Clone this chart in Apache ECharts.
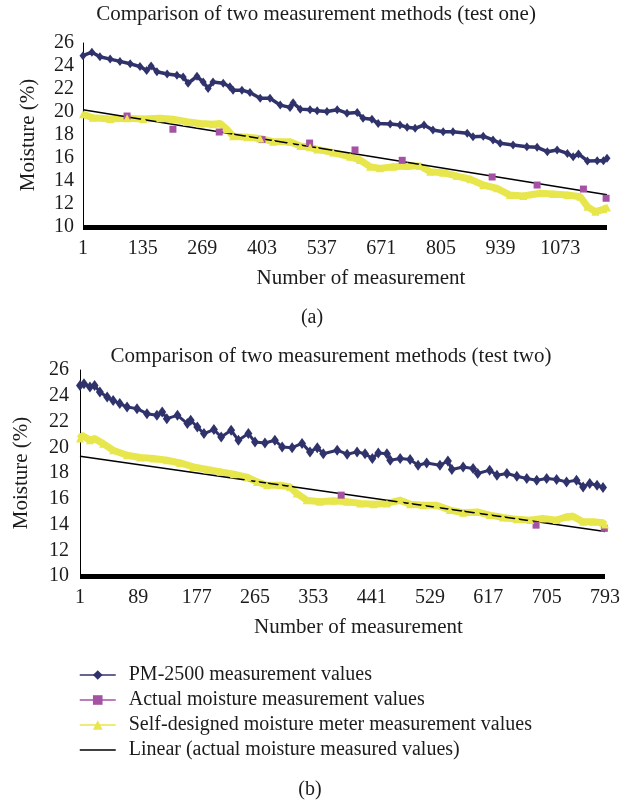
<!DOCTYPE html>
<html>
<head>
<meta charset="utf-8">
<script src="https://cdn.jsdelivr.net/npm/echarts@6/dist/echarts.min.js"></script>
<style>
  html, body { margin: 0; padding: 0; background: #fff; }
  #chart { width: 628px; height: 803px; }
</style>
</head>
<body>
<div id="chart"></div>
<script>
// test one: 1178 measurements, labels every 134
const countA = 1178
const stepA = 134
// test two: 793 measurements, labels every 88
const countB = 793
const stepB = 88

const seriesNames = [
  'PM-2500 measurement values',
  'Actual moisture measurement values',
  'Self-designed moisture meter measurement values',
  'Linear (actual moisture measured values)'
]

// [measurement number, moisture %]
const pmA = [[1,24.9],[21,25.2],[39,24.8],[62,24.6],[84,24.4],[107,24.2],[129,23.95],[144,23.6],[154,24.0],[167,23.5],[190,23.3],[212,23.2],[226,23.05],[237,22.5],[257,23.1],[271,22.6],[282,22.05],[293,22.6],[316,22.5],[331,22.2],[338,21.9],[358,21.9],[376,21.7],[399,21.2],[421,21.2],[444,20.6],[466,20.4],[473,20.8],[489,20.25],[511,20.2],[527,20.1],[549,20.05],[572,20.2],[594,19.9],[617,19.95],[630,19.45],[650,19.37],[664,19.0],[691,18.96],[713,18.87],[729,18.67],[747,18.58],[767,18.87],[787,18.43],[810,18.29],[832,18.29],[864,18.15],[877,17.85],[900,17.9],[922,17.57],[938,17.28],[967,17.13],[998,16.98],[1021,16.93],[1044,16.55],[1066,16.7],[1089,16.4],[1102,16.1],[1114,16.35],[1134,15.74],[1156,15.77],[1170,15.77],[1178,15.97]]
const actualA = [[100,19.65],[203,18.5],[307,18.26],[403,17.6],[510,17.3],[612,16.7],[718,15.8],[920,14.35],[1021,13.65],[1125,13.3],[1176,12.5]]
const selfA = [[1,19.8],[23,19.5],[62,19.4],[100,19.45],[136,19.4],[174,19.45],[203,19.37],[234,19.16],[264,19.0],[293,18.93],[309,19.0],[324,18.5],[338,17.9],[370,17.8],[399,17.7],[428,17.42],[466,17.42],[489,17.04],[511,16.93],[527,16.75],[563,16.47],[601,16.1],[623,15.83],[646,15.25],[668,15.1],[698,15.24],[729,15.3],[758,15.3],[781,14.8],[810,14.72],[841,14.43],[871,14.15],[900,13.65],[931,13.36],[960,12.78],[990,12.7],[1028,12.93],[1057,12.87],[1089,12.78],[1118,12.63],[1134,11.77],[1152,11.33],[1170,11.54],[1178,11.7]]
const trendA = [[1,20.2],[1178,12.8]]

const pmB = [[1,24.8],[7,24.94],[16,24.67],[23,24.8],[31,24.29],[42,23.9],[51,23.64],[61,23.39],[72,23.12],[87,23.0],[102,22.61],[117,22.48],[125,22.74],[132,22.22],[148,22.48],[163,21.84],[168,22.1],[178,21.57],[188,21.06],[203,21.37],[214,20.8],[229,21.32],[240,20.54],[255,21.06],[265,20.41],[280,20.33],[295,20.54],[306,20.02],[321,19.97],[336,20.3],[348,19.64],[359,19.97],[368,19.5],[389,19.77],[404,19.46],[419,19.64],[431,19.5],[442,19.12],[451,19.56],[464,19.5],[469,18.99],[484,19.12],[499,19.04],[511,18.6],[524,18.78],[544,18.6],[556,18.94],[562,18.27],[579,18.47],[594,18.35],[601,17.96],[619,18.22],[630,17.83],[645,17.96],[660,17.75],[675,17.57],[690,17.44],[705,17.57],[720,17.5],[735,17.31],[750,17.44],[760,16.92],[770,17.19],[781,17.05],[790,16.88]]
const actualB = [[395,16.28],[689,13.95],[792,13.7]]
const selfB = [[1,20.67],[4,20.93],[16,20.54],[23,20.67],[36,20.28],[51,19.77],[72,19.38],[92,19.2],[112,19.12],[132,18.99],[152,18.78],[172,18.47],[193,18.27],[213,18.09],[233,17.91],[254,17.65],[268,17.31],[283,17.05],[303,17.05],[318,16.92],[328,16.41],[343,15.89],[363,15.76],[383,15.84],[404,15.76],[424,15.64],[444,15.58],[464,15.64],[484,15.89],[499,15.58],[519,15.5],[539,15.5],[559,15.12],[579,14.91],[600,14.98],[619,14.73],[639,14.55],[660,14.4],[680,14.34],[699,14.47],[720,14.34],[735,14.6],[744,14.65],[760,14.21],[775,14.21],[790,14.13],[793,14.0]]
const trendB = [[1,19.3],[793,13.45]]

const FONT = '"Liberation Serif", "DejaVu Serif", serif'
const INK = '#1c1c1c'
const NAVY = '#30336b'
const PURPLE = '#a552a5'
const YELLOW = '#e7e64c'

// axis runs from 0 so ticks land on multiples of the step; labels add 1 back
const shift = arr => arr.map(p => [p[0] - 1, p[1]])

const makeX = (gridIndex, count, step, showMax) => ({
  type: 'value',
  gridIndex,
  min: 0,
  max: count - 1,
  interval: step,
  name: 'Number of measurement',
  nameLocation: 'middle',
  nameGap: 41,
  nameTextStyle: { fontFamily: FONT, fontSize: 21, color: INK, padding: [0, 0, 0, 32] },
  axisLine: { show: true, onZero: false, lineStyle: { color: '#000', width: 5, cap: 'butt' } },
  axisTick: { show: false },
  splitLine: { show: false },
  axisLabel: {
    fontFamily: FONT, fontSize: 20, color: INK, margin: 12,
    showMaxLabel: showMax,
    formatter: v => String(v + 1)
  }
})

const makeY = (gridIndex, gap, margin) => ({
  type: 'value',
  gridIndex,
  min: 10,
  max: 26,
  interval: 2,
  name: 'Moisture (%)',
  nameLocation: 'middle',
  nameGap: gap,
  nameTextStyle: { fontFamily: FONT, fontSize: 21, color: INK },
  axisLine: { show: true, lineStyle: { color: '#000', width: 1 } },
  axisTick: { show: false },
  splitLine: { show: false },
  axisLabel: { fontFamily: FONT, fontSize: 20, color: INK, margin }
})

const makeSeries = (idx, pm, actual, self, trend, diamond, pmWidth) => [
  {
    name: seriesNames[0], type: 'line', xAxisIndex: idx, yAxisIndex: idx,
    data: shift(pm), symbol: 'diamond', symbolSize: diamond,
    itemStyle: { color: NAVY }, lineStyle: { color: NAVY, width: pmWidth }
  },
  {
    name: seriesNames[1], type: 'line', xAxisIndex: idx, yAxisIndex: idx,
    data: shift(actual), symbol: 'rect', symbolSize: 7,
    itemStyle: { color: PURPLE }, lineStyle: { color: PURPLE, opacity: 0 }
  },
  {
    name: seriesNames[2], type: 'line', xAxisIndex: idx, yAxisIndex: idx,
    data: shift(self), symbol: 'triangle', symbolSize: 8,
    itemStyle: { color: YELLOW }, lineStyle: { color: YELLOW, width: 7 }
  },
  {
    name: seriesNames[3], type: 'line', xAxisIndex: idx, yAxisIndex: idx,
    data: shift(trend), symbol: 'none',
    itemStyle: { color: '#000' }, lineStyle: { color: '#000', width: 1.5 }
  }
]

const titleStyle = size => ({ fontFamily: FONT, fontSize: size, fontWeight: 'normal', color: INK })

const chart = echarts.init(document.getElementById('chart'))

chart.setOption({
  animation: false,
  backgroundColor: '#fff',
  title: [
    { text: 'Comparison of two measurement methods (test one)', left: 316, top: 4, textAlign: 'center', padding: 0, textStyle: titleStyle(21) },
    { text: 'Comparison of two measurement methods (test two)', left: 331, top: 346, textAlign: 'center', padding: 0, textStyle: titleStyle(21) },
    { text: '(a)', left: 312, top: 308, textAlign: 'center', padding: 0, textStyle: titleStyle(20) },
    { text: '(b)', left: 310, top: 780, textAlign: 'center', padding: 0, textStyle: titleStyle(20) }
  ],
  legend: {
    orient: 'vertical',
    left: 79,
    top: 665,
    padding: 0,
    itemWidth: 36,
    itemHeight: 12,
    itemGap: 5,
    selectedMode: false,
    lineStyle: { width: 1.5, opacity: 1 },
    textStyle: { fontFamily: FONT, fontSize: 20, color: INK, lineHeight: 20, padding: [0, 0, 0, 8] },
    data: [
      seriesNames[0],
      seriesNames[1],
      seriesNames[2],
      { name: seriesNames[3], itemStyle: { opacity: 0 } }
    ]
  },
  grid: [
    { left: 83, top: 43, width: 524, height: 184, outerBoundsMode: 'none' },
    { left: 80, top: 370, width: 525, height: 206, outerBoundsMode: 'none' }
  ],
  xAxis: [
    makeX(0, countA, stepA, false),
    makeX(1, countB, stepB, true)
  ],
  yAxis: [
    makeY(0, 44, 9),
    makeY(1, 48, 11)
  ],
  series: [
    ...makeSeries(0, pmA, actualA, selfA, trendA, [7, 9], 3.5),
    ...makeSeries(1, pmB, actualB, selfB, trendB, [8, 11], 3)
  ]
})
</script>
</body>
</html>
